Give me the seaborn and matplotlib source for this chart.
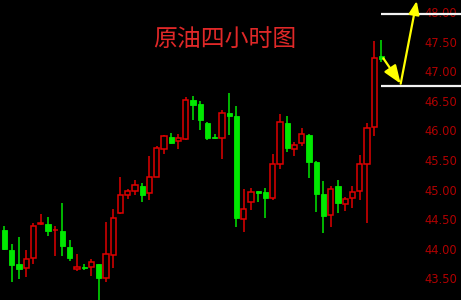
import numpy as np
import pandas as pd
import matplotlib
matplotlib.use("Agg")
import matplotlib.pyplot as plt
import seaborn as sns

# ---- data ----
opens = [44.32, 43.98, 43.74, 43.68, 43.85, 44.41, 44.42, 44.31, 44.30, 44.03,
         43.66, 43.69, 43.69, 43.75, 43.51, 43.89, 44.60, 44.91, 44.97, 45.06,
         44.94, 45.22, 45.68, 45.89, 45.82, 45.85, 46.51, 46.45, 46.13, 45.89,
         45.88, 46.30, 46.24, 44.50, 44.79, 44.97, 44.96, 44.85, 45.43, 46.12,
         45.69, 45.78, 45.92, 45.46, 44.92, 44.57, 45.06, 44.76, 44.86, 44.97,
         45.43, 46.05, 47.26]
highs = [44.39, 44.08, 44.20, 43.98, 44.44, 44.59, 44.54, 44.38, 44.77, 44.15,
         43.91, 43.74, 43.83, 43.75, 44.46, 44.67, 45.21, 45.01, 45.16, 45.11,
         45.56, 45.74, 45.92, 45.95, 45.94, 46.57, 46.59, 46.50, 46.15, 45.94,
         46.35, 46.63, 46.42, 45.01, 45.02, 44.98, 45.02, 45.60, 46.28, 46.25,
         45.81, 46.04, 45.94, 45.49, 45.15, 45.06, 45.16, 44.87, 45.06, 45.58,
         46.12, 47.51, 47.53]
lows = [43.98, 43.44, 43.49, 43.52, 43.74, 44.40, 44.22, 43.88, 43.88, 43.79,
        43.62, 43.64, 43.54, 43.10, 43.44, 43.68, 44.59, 44.84, 44.91, 44.79,
        44.82, 45.21, 45.60, 45.77, 45.68, 45.83, 46.18, 46.01, 45.84, 45.86,
        45.52, 45.92, 44.36, 44.29, 44.66, 44.79, 44.52, 44.82, 45.34, 45.63,
        45.57, 45.74, 45.19, 44.62, 44.27, 44.36, 44.60, 44.64, 44.69, 44.82,
        44.43, 45.90, 47.15]
closes = [44.00, 43.73, 43.65, 43.83, 44.39, 44.43, 44.30, 44.32, 44.05, 43.84,
          43.69, 43.68, 43.78, 43.50, 43.91, 44.52, 44.90, 44.98, 45.07, 44.91,
          45.21, 45.70, 45.91, 45.79, 45.87, 46.52, 46.43, 46.17, 45.88, 45.87,
          46.30, 46.25, 44.52, 44.67, 44.96, 44.95, 44.85, 45.43, 46.14, 45.71,
          45.76, 45.94, 45.46, 44.92, 44.55, 45.01, 44.77, 44.84, 44.96, 45.43,
          46.04, 47.22, 47.21]

tick_values = [43.5, 44.0, 44.5, 45.0, 45.5, 46.0, 46.5, 47.0, 47.5, 48.0]
tick_labels = ["43.50", "44.00", "44.50", "45.00", "45.50",
               "46.00", "46.50", "47.00", "47.50", "48.00"]

level_prices = [47.97, 46.75]          # white horizontal levels
level_start = 51.93                    # candle index where the levels start
arrow_points = [(52.25, 47.22), (54.65, 46.79), (56.86, 48.19)]  # yellow path

title_text = "原油四小时图"

# ---- style ----
sns.set_style("dark", {"axes.facecolor": "black", "figure.facecolor": "black",
                       "axes.grid": False})
plt.rcParams["font.family"] = ["DejaVu Sans"]

RED = "#e00000"
GREEN = "#00e800"
LABEL_RED = "#b00000"
TITLE_RED = "#e02828"
YELLOW = "#ffff00"

df = pd.DataFrame({"o": opens, "h": highs, "l": lows, "c": closes})
df["idx"] = np.arange(len(df))
df["up"] = df["c"] >= df["o"]
df["bottom"] = df[["o", "c"]].min(axis=1)
df["height"] = (df["c"] - df["o"]).abs().clip(lower=0.012)

fig = plt.figure(figsize=(4.61, 3.0), dpi=100)
ax = fig.add_axes([0, 0, 1, 1])
ax.set_facecolor("black")

# wicks
for up, col in [(True, RED), (False, GREEN)]:
    sub = df[df["up"] == up]
    ax.vlines(sub["idx"], sub["l"], sub["h"], colors=col, linewidth=1.1, zorder=2)

# bodies through seaborn
red = df[df["up"]]
green = df[~df["up"]]
sns.barplot(x=red["idx"].to_numpy(), y=red["height"].to_numpy(),
            bottom=red["bottom"].to_numpy(), native_scale=True, width=0.70,
            color="black", edgecolor=RED, linewidth=1.1, saturation=1,
            errorbar=None, ax=ax, zorder=3)
sns.barplot(x=green["idx"].to_numpy(), y=green["height"].to_numpy(),
            bottom=green["bottom"].to_numpy(), native_scale=True, width=0.70,
            color=GREEN, edgecolor=GREEN, linewidth=0.6, saturation=1,
            errorbar=None, ax=ax, zorder=3)

# axes limits and price labels inside right edge
ax.set_xlim(-0.62, 62.97)
ax.set_ylim(43.133, 48.205)
ax.set_xticks([])
ax.yaxis.tick_right()
ax.set_yticks(tick_values)
ax.set_yticklabels(tick_labels)
ax.tick_params(axis="y", length=0, pad=-2.9, labelsize=8.3, labelcolor=LABEL_RED)
for lbl in ax.get_yticklabels():
    lbl.set_horizontalalignment("right")
ax.set_xlabel("")
ax.set_ylabel("")
ax.set_axisbelow(True)
for s in ax.spines.values():
    s.set_visible(False)

# white levels
ax.hlines(level_prices, level_start, 62.97, colors="#f2f2f2", linewidth=1.6, zorder=4)

# yellow arrows
(x0, y0), (x1, y1), (x2, y2) = arrow_points
ax.annotate("", xy=(x1, y1), xytext=(x0, y0), zorder=5,
            arrowprops=dict(arrowstyle="-|>,head_length=1.1,head_width=0.42",
                            mutation_scale=10, color=YELLOW, lw=1.6,
                            shrinkA=0, shrinkB=0))
ax.annotate("", xy=(x2, y2), xytext=(x1, y1), zorder=5, annotation_clip=False,
            arrowprops=dict(arrowstyle="-|>,head_length=1.0,head_width=0.4",
                            mutation_scale=8, color=YELLOW, lw=1.6,
                            shrinkA=0, shrinkB=0))

# title
fig.text(224.7 / 461, 1 - 39.5 / 300, title_text, color=TITLE_RED,
         fontsize=17.2, ha="center", va="center", fontweight="light",
         family=["Noto Sans CJK SC", "DejaVu Sans"])

fig.savefig("out.png", dpi=100, facecolor="black")
